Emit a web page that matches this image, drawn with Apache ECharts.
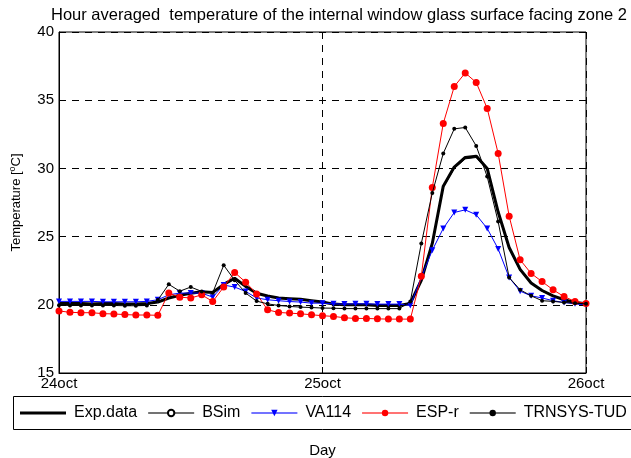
<!DOCTYPE html>
<html>
<head>
<meta charset="utf-8">
<script src="https://cdn.jsdelivr.net/npm/echarts@6/dist/echarts.min.js"></script>
<style>
  html, body { margin: 0; padding: 0; background: #fff; }
  #chart { width: 631px; height: 458px; }
</style>
</head>
<body>
<div id="chart"></div>
<script>
// hours 0..48 from 24oct 00:00
const hours = Array.from({ length: 49 }, (_, i) => i);
const dayLabels = { 0: "24oct", 24: "25oct", 48: "26oct" };

const expData = [20.1, 20.1, 20.1, 20.05, 20.1, 20.1, 20.05, 20.05, 20.1, 20.2,
    20.5, 20.7, 20.85, 20.95, 20.9, 21.5, 21.95, 21.35, 20.85, 20.65,
    20.5, 20.45, 20.4, 20.3, 20.2, 20.05, 20.0, 20.0, 20.0, 19.95,
    19.95, 19.95, 20.1, 21.8, 24.5, 28.7, 30.1, 30.8, 30.9, 30.0,
    26.8, 24.2, 22.6, 21.6, 21.05, 20.66, 20.37, 20.17, 20.07];
const bsim = [20.12, 20.12, 20.1, 20.1, 20.1, 20.1, 20.08, 20.08, 20.1, 20.22,
    20.55, 20.72, 20.85, 20.93, 20.9, 21.45, 21.9, 21.3, 20.82, 20.62,
    20.5, 20.45, 20.38, 20.3, 20.2, 20.05, 20.02, 20.0, 20.0, 19.97,
    19.97, 19.97, 20.1, 21.9, 24.6, 28.6, 30.0, 30.7, 30.8, 29.9,
    26.7, 24.1, 22.5, 21.6, 21.0, 20.65, 20.35, 20.17, 20.07];
const va114 = [20.25, 20.25, 20.25, 20.25, 20.22, 20.22, 20.22, 20.22, 20.25, 20.37,
    20.73, 20.86, 20.86, 20.86, 20.56, 21.45, 21.3, 20.98, 20.5, 20.37,
    20.3, 20.24, 20.2, 20.12, 20.12, 20.07, 20.05, 20.07, 20.07, 20.05,
    20.05, 20.05, 19.95, 22.0, 24.0, 25.6, 26.77, 26.96, 26.6, 25.6,
    24.1, 22.0, 21.0, 20.66, 20.5, 20.3, 20.17, 20.07, 20.0];
const espr = [19.55, 19.45, 19.42, 19.42, 19.35, 19.33, 19.28, 19.25, 19.25, 19.23,
    20.86, 20.56, 20.5, 20.73, 20.24, 21.3, 22.37, 21.66, 20.8, 19.63,
    19.44, 19.39, 19.34, 19.27, 19.2, 19.15, 19.05, 19.0, 19.0, 18.97,
    18.95, 18.95, 18.95, 22.1, 28.6, 33.3, 36.0, 37.0, 36.3, 34.4,
    31.1, 26.5, 23.3, 22.3, 21.7, 21.1, 20.6, 20.25, 20.1];
const trnsys = [19.97, 19.95, 19.95, 19.95, 19.95, 19.95, 19.93, 19.93, 19.95, 20.35,
    21.5, 21.0, 21.3, 20.98, 20.88, 22.9, 21.8, 20.86, 20.27, 20.07,
    19.95, 19.88, 19.83, 19.8, 19.76, 19.75, 19.72, 19.72, 19.72, 19.72,
    19.72, 19.72, 20.25, 24.5, 28.2, 31.1, 32.9, 33.0, 31.65, 29.4,
    26.1, 22.0, 21.1, 20.66, 20.3, 20.25, 20.17, 20.12, 20.07];

function pairs(vals) {
    return hours.map((h, i) => [h, vals[i]]);
}

const chart = echarts.init(document.getElementById("chart"), null, { renderer: "canvas" });
const font = "Liberation Sans, Arial, sans-serif";
const dash = [7, 6];
const legendLine = { width: 2, opacity: 0.55 };

const options = {
    animation: false,
    backgroundColor: "#fff",
    textStyle: { fontFamily: font, color: "#000" },
    title: {
        text: "Hour averaged  temperature of the internal window glass surface facing zone 2",
        left: 334, textAlign: "center", top: 2,
        textStyle: { fontSize: 16.5, fontWeight: "normal", color: "#000", fontFamily: font }
    },
    grid: {
        left: 59, right: 45, top: 32, bottom: 85,
        outerBoundsMode: "none", containLabel: false,
        show: true, borderColor: "#000", borderWidth: 1, backgroundColor: "transparent"
    },
    xAxis: {
        type: "value", min: 0, max: 48, interval: 24,
        name: "Day", nameLocation: "middle", nameGap: 70,
        nameTextStyle: { fontSize: 15, color: "#000", fontFamily: font },
        axisLine: { show: true, lineStyle: { color: "#000" } },
        axisTick: { show: true, inside: true, length: 6, lineStyle: { color: "#000" } },
        axisLabel: {
            fontSize: 15, color: "#000", margin: 3, fontFamily: font,
            formatter: v => dayLabels[v] || ""
        },
        splitLine: { show: true, lineStyle: { color: "#000", type: dash } }
    },
    yAxis: {
        type: "value", min: 15, max: 40, interval: 5,
        name: "Temperature [{sup|o}C]", nameLocation: "middle", nameGap: 35,
        nameTextStyle: {
            fontSize: 13, color: "#000", fontFamily: font,
            rich: { sup: { fontSize: 9, color: "#000", fontFamily: font, padding: [0, 0, 7, 0] } }
        },
        axisLine: { show: true, lineStyle: { color: "#000" } },
        axisTick: { show: true, inside: true, length: 6, lineStyle: { color: "#000" } },
        axisLabel: { fontSize: 15, color: "#000", margin: 5, fontFamily: font },
        splitLine: { show: true, lineStyle: { color: "#000", type: dash } }
    },
    legend: {
        left: 20, top: 405, width: 620, itemWidth: 46, itemHeight: 8, itemGap: 10,
        padding: 0,
        textStyle: { fontSize: 16, color: "#000", fontFamily: font, padding: [0, 0, 0, 3] },
        data: [
            { name: "Exp.data", icon: "path://M0,0L46,0L46,3L0,3Z" },
            { name: "BSim", lineStyle: legendLine },
            { name: "VA114", lineStyle: legendLine },
            { name: "ESP-r", lineStyle: legendLine },
            { name: "TRNSYS-TUD", lineStyle: legendLine }
        ]
    },
    graphic: [{
        type: "rect", left: 13, top: 396, z: -1,
        shape: { width: 630, height: 33 },
        style: { fill: "#fff", stroke: "#000", lineWidth: 1 }
    }],
    series: [
        {
            name: "Exp.data", type: "line", data: pairs(expData),
            symbol: "none", lineStyle: { color: "#000", width: 3 }, itemStyle: { color: "#000" }, z: 3
        },
        {
            name: "BSim", type: "line", data: pairs(bsim),
            symbol: "emptyCircle", symbolSize: 4, showSymbol: false,
            lineStyle: { color: "#000", width: 1 }, itemStyle: { color: "#000", borderColor: "#000" }, z: 2
        },
        {
            name: "VA114", type: "line", data: pairs(va114),
            symbol: "triangle", symbolRotate: 180, symbolSize: 6,
            lineStyle: { color: "#0000ff", width: 1 }, itemStyle: { color: "#0000ff" }, z: 4
        },
        {
            name: "ESP-r", type: "line", data: pairs(espr),
            symbol: "circle", symbolSize: 7,
            lineStyle: { color: "#ff0000", width: 1 }, itemStyle: { color: "#ff0000" }, z: 5
        },
        {
            name: "TRNSYS-TUD", type: "line", data: pairs(trnsys),
            symbol: "circle", symbolSize: 4,
            lineStyle: { color: "#000", width: 1 }, itemStyle: { color: "#000" }, z: 6
        }
    ]
};
chart.setOption(options);
</script>
</body>
</html>
